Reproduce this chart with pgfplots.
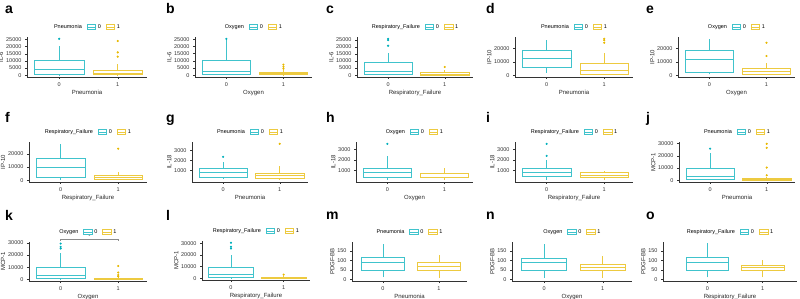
\documentclass[border=0pt]{standalone}
\usepackage{fontspec}
\setmainfont{Liberation Sans}
\usepackage{pgfplots}
\pgfplotsset{compat=1.18}
\usepgfplotslibrary{statistics}
\definecolor{cA}{HTML}{00AFBB}
\definecolor{cB}{HTML}{E7B800}
\definecolor{axgray}{HTML}{333333}
\pgfplotsset{
  panel/.style={
    scale only axis, anchor=south west,
    axis x line=bottom, axis y line=left,
    axis line style={-, axgray, line width=0.5pt},
    xmin=-0.55, xmax=1.5, xtick={0,1}, xticklabels={0,1},
    tick align=outside, major tick length=2pt,
    tick style={axgray, line width=0.4pt},
    ticklabel style={font=\fontsize{5.5}{6}\selectfont, text=black!80},
    label style={font=\fontsize{6}{7}\selectfont, text=black!85},
    xlabel style={yshift=3pt},
    ylabel shift=-4pt,
    /pgf/number format/assume math mode=true,
    /pgf/number format/1000 sep={},
    scaled y ticks=false,
    legend columns=-1,
    legend style={at={(0.5,1)}, anchor=south, yshift=5pt, draw=none, fill=none,
      font=\fontsize{5.5}{6}\selectfont, inner sep=0pt,
      /tikz/every even column/.append style={column sep=3pt}},
    boxplot/draw direction=y,
    boxplot/box extend=0.85,
    boxplot/every median/.style={line width=1pt},
    boxplot/draw/lower whisker/.code={\draw (boxplot box cs:\pgfplotsboxplotvalue{lower whisker},0.5) -- (boxplot box cs:\pgfplotsboxplotvalue{lower quartile},0.5);},
    boxplot/draw/upper whisker/.code={\draw (boxplot box cs:\pgfplotsboxplotvalue{upper quartile},0.5) -- (boxplot box cs:\pgfplotsboxplotvalue{upper whisker},0.5);},
    clip=false,
  },
  k25/.style={ytick={0,5,10,15,20,25}, yticklabels={0,5000,10000,15000,20000,25000}},
  k20/.style={ytick={0,10,20}, yticklabels={0,10000,20000}},
  k30/.style={ytick={0,10,20,30}, yticklabels={0,10000,20000,30000}},
  k3/.style={ytick={1,2,3}, yticklabels={1000,2000,3000}},
  g0/.style={cA!75, solid, line width=0.5pt, fill=white, mark=*, mark size=0.8pt, mark options={fill=cA, draw=cA}},
  g1/.style={cB!75, solid, line width=0.5pt, fill=white, mark=*, mark size=0.8pt, mark options={fill=cB, draw=cB}},
  legbox/.style={legend image code/.code={\draw[##1, fill=white, line width=0.5pt] (0pt,-2.6pt) rectangle (8.5pt,2.6pt); \draw[##1, line width=0.5pt] (0pt,0pt) -- (8.5pt,0pt);}},
  row1/.style={height=40pt},
  row2/.style={height=40pt},
  row3/.style={height=39pt},
}
\newcommand{\leg}[1]{%
  \addlegendimage{empty legend}\addlegendentry{#1}
  \addlegendimage{cA!75, legbox}\addlegendentry{0}
  \addlegendimage{cB!75, legbox}\addlegendentry{1}}
\tikzset{letter/.style={anchor=base west, font=\fontsize{14}{14}\selectfont\bfseries, inner sep=0pt}}
\begin{document}
\begin{tikzpicture}
\useasboundingbox (0,0) rectangle (800pt,-299pt);
% values of IL-6, IP-10, MCP-1 and IL-18 in thousands
% ---------- row 1 ----------
\node[letter] at (5pt,-14pt) {a};
\begin{axis}[panel, row1, k25, at={(27pt,-77pt)}, width=120pt, ylabel={IL-6}, xlabel={Pneumonia},
  ymin=-1.3, ymax=26.8]
\leg{Pneumonia}
\addplot[g0, forget plot, boxplot prepared={draw position=0, lower whisker=0, lower quartile=0.3, median=3.95, upper quartile=10.4, upper whisker=20.3}] coordinates {(0,25.5)};
\addplot[g1, forget plot, boxplot prepared={draw position=1, lower whisker=0, lower quartile=0.3, median=1.2, upper quartile=3.5, upper whisker=7.5}] coordinates {(1,13) (1,16) (1,24)};
\end{axis}
\node[letter] at (166pt,-14pt) {b};
\begin{axis}[panel, row1, k25, at={(195pt,-77pt)}, width=117pt, ylabel={IL-6}, xlabel={Oxygen},
  ymin=-1.3, ymax=26.5]
\leg{Oxygen}
\addplot[g0, forget plot, boxplot prepared={draw position=0, lower whisker=0, lower quartile=0.7, median=2.5, upper quartile=10, upper whisker=24.8}] coordinates {(0,25.2)};
\addplot[g1, forget plot, boxplot prepared={draw position=1, lower whisker=0, lower quartile=0.4, median=1.0, upper quartile=2.2, upper whisker=3.5}] coordinates {(1,4.5) (1,5.8) (1,7.3)};
\end{axis}
\node[letter] at (326pt,-14pt) {c};
\begin{axis}[panel, row1, k25, at={(357pt,-77pt)}, width=116pt, ylabel={IL-6}, xlabel={Respiratory\_Failure},
  ymin=-1.3, ymax=27]
\leg{Respiratory\_Failure}
\addplot[g0, forget plot, boxplot prepared={draw position=0, lower whisker=0, lower quartile=0.5, median=2.3, upper quartile=8.8, upper whisker=15.7}] coordinates {(0,20.8) (0,24.8) (0,25.7)};
\addplot[g1, forget plot, boxplot prepared={draw position=1, lower whisker=0, lower quartile=0.2, median=0.8, upper quartile=1.8, upper whisker=4.0}] coordinates {(1,5.8)};
\end{axis}
\node[letter] at (486pt,-14pt) {d};
\begin{axis}[panel, row1, k20, at={(515pt,-77pt)}, width=118pt, ylabel={IP-10}, xlabel={Pneumonia},
  ymin=-1.4, ymax=28.6]
\leg{Pneumonia}
\addplot[g0, forget plot, boxplot prepared={draw position=0, lower whisker=1.9, lower quartile=5.6, median=12.3, upper quartile=18.3, upper whisker=26.3}] coordinates {};
\addplot[g1, forget plot, boxplot prepared={draw position=1, lower whisker=0, lower quartile=1.0, median=3.4, upper quartile=8.7, upper whisker=16.4}] coordinates {(1,24.3) (1,26.2) (1,27.2)};
\end{axis}
\node[letter] at (646pt,-14pt) {e};
\begin{axis}[panel, row1, k20, at={(678pt,-77pt)}, width=117pt, ylabel={IP-10}, xlabel={Oxygen},
  ymin=-1.4, ymax=28.6]
\leg{Oxygen}
\addplot[g0, forget plot, boxplot prepared={draw position=0, lower whisker=0.5, lower quartile=2.5, median=11.8, upper quartile=18.3, upper whisker=27.0}] coordinates {};
\addplot[g1, forget plot, boxplot prepared={draw position=1, lower whisker=0.2, lower quartile=1.0, median=3.0, upper quartile=5.5, upper whisker=9.3}] coordinates {(1,14.3) (1,24.3)};
\end{axis}
% ---------- row 2 ----------
\node[letter] at (5pt,-123pt) {f};
\begin{axis}[panel, row2, k20, at={(29pt,-182pt)}, width=118pt, ylabel={IP-10}, xlabel={Respiratory\_Failure},
  ymin=-1.4, ymax=29.2]
\leg{Respiratory\_Failure}
\addplot[g0, forget plot, boxplot prepared={draw position=0, lower whisker=0.5, lower quartile=2.0, median=9.6, upper quartile=16.7, upper whisker=27.8}] coordinates {};
\addplot[g1, forget plot, boxplot prepared={draw position=1, lower whisker=0.2, lower quartile=1.0, median=1.9, upper quartile=3.9, upper whisker=6.1}] coordinates {(1,24.1)};
\end{axis}
\node[letter] at (166pt,-123pt) {g};
\begin{axis}[panel, row2, k3, at={(192pt,-182pt)}, width=116pt, ylabel={IL-18}, xlabel={Pneumonia},
  ymin=-0.13, ymax=3.84]
\leg{Pneumonia}
\addplot[g0, forget plot, boxplot prepared={draw position=0, lower whisker=0.15, lower quartile=0.37, median=0.78, upper quartile=1.19, upper whisker=1.9}] coordinates {(0,2.37)};
\addplot[g1, forget plot, boxplot prepared={draw position=1, lower whisker=0.05, lower quartile=0.28, median=0.56, upper quartile=0.75, upper whisker=1.42}] coordinates {(1,3.66)};
\end{axis}
\node[letter] at (326pt,-123pt) {h};
\begin{axis}[panel, row2, k3, at={(356pt,-182pt)}, width=117pt, ylabel={IL-18}, xlabel={Oxygen},
  ymin=-0.1, ymax=3.73]
\leg{Oxygen}
\addplot[g0, forget plot, boxplot prepared={draw position=0, lower whisker=0.1, lower quartile=0.38, median=0.8, upper quartile=1.25, upper whisker=2.35}] coordinates {(0,3.55)};
\addplot[g1, forget plot, boxplot prepared={draw position=1, lower whisker=0.1, lower quartile=0.33, median=0.7, upper quartile=0.78, upper whisker=1.2}] coordinates {};
\end{axis}
\node[letter] at (486pt,-123pt) {i};
\begin{axis}[panel, row2, k3, at={(515pt,-182pt)}, width=118pt, ylabel={IL-18}, xlabel={Respiratory\_Failure},
  ymin=-0.1, ymax=3.73]
\leg{Respiratory\_Failure}
\addplot[g0, forget plot, boxplot prepared={draw position=0, lower whisker=0.1, lower quartile=0.45, median=0.85, upper quartile=1.2, upper whisker=2.0}] coordinates {(0,2.4) (0,3.55)};
\addplot[g1, forget plot, boxplot prepared={draw position=1, lower whisker=0.1, lower quartile=0.33, median=0.5, upper quartile=0.82, upper whisker=1.0}] coordinates {};
\end{axis}
\node[letter] at (646pt,-123pt) {j};
\begin{axis}[panel, row2, k30, at={(679pt,-182pt)}, width=116pt, ylabel={MCP-1}, xlabel={Pneumonia},
  ymin=-1.5, ymax=31.3]
\leg{Pneumonia}
\addplot[g0, forget plot, boxplot prepared={draw position=0, lower whisker=0, lower quartile=0.8, median=2.7, upper quartile=9.4, upper whisker=22}] coordinates {(0,25.8)};
\addplot[g1, forget plot, boxplot prepared={draw position=1, lower whisker=0, lower quartile=0.3, median=0.8, upper quartile=1.5, upper whisker=2.8}] coordinates {(1,4.0) (1,10.3) (1,26.5) (1,29.8)};
\end{axis}
% ---------- row 3 ----------
\node[letter] at (5pt,-220pt) {k};
\begin{axis}[panel, row3, k30, at={(29pt,-281pt)}, width=118pt, ylabel={MCP-1}, xlabel={Oxygen},
  ymin=-1.5, ymax=30.8]
\leg{Oxygen}
\addplot[g0, forget plot, boxplot prepared={draw position=0, lower whisker=0, lower quartile=0.5, median=3.0, upper quartile=10, upper whisker=22}] coordinates {(0,25.4) (0,26.8) (0,29.5)};
\addplot[g1, forget plot, boxplot prepared={draw position=1, lower whisker=0, lower quartile=0.2, median=0.5, upper quartile=1.0, upper whisker=2.0}] coordinates {(1,2.3) (1,3.5) (1,5.5) (1,10.9)};
\addplot[black!45, line width=0.4pt, forget plot] coordinates {(0,31.7) (0,33.3) (1,33.3) (1,31.7)};
\node[font=\fontsize{6}{6}\selectfont, text=black!70, inner sep=0pt, anchor=south] at (axis cs:0.5,33.6) {*};
\end{axis}
\node[letter] at (166pt,-220pt) {l};
\begin{axis}[panel, row3, k30, at={(202pt,-280pt)}, width=108pt, ylabel={MCP-1}, xlabel={Respiratory\_Failure},
  ymin=-1.5, ymax=32]
\leg{Respiratory\_Failure}
\addplot[g0, forget plot, boxplot prepared={draw position=0, lower whisker=0, lower quartile=0.5, median=2.8, upper quartile=9.7, upper whisker=20}] coordinates {(0,25.5) (0,27.0) (0,30.5)};
\addplot[g1, forget plot, boxplot prepared={draw position=1, lower whisker=0, lower quartile=0.2, median=0.4, upper quartile=0.8, upper whisker=1.8}] coordinates {(1,3.1)};
\end{axis}
\node[letter] at (326pt,-219pt) {m};
\begin{axis}[panel, row3, at={(352pt,-281pt)}, width=115pt, ylabel={PDGF-BB}, xlabel={Pneumonia},
  ymin=-9, ymax=198, ytick={0,50,100,150}, boxplot/box extend=0.77]
\leg{Pneumonia}
\addplot[g0, forget plot, boxplot prepared={draw position=0, lower whisker=12, lower quartile=48, median=87, upper quartile=117, upper whisker=190}] coordinates {};
\addplot[g1, forget plot, boxplot prepared={draw position=1, lower whisker=7, lower quartile=48, median=70, upper quartile=90, upper whisker=128}] coordinates {};
\end{axis}
\node[letter] at (486pt,-219pt) {n};
\begin{axis}[panel, row3, at={(512pt,-281pt)}, width=120pt, ylabel={PDGF-BB}, xlabel={Oxygen},
  ymin=-9, ymax=198, ytick={0,50,100,150}, boxplot/box extend=0.77]
\leg{Oxygen}
\addplot[g0, forget plot, boxplot prepared={draw position=0, lower whisker=8, lower quartile=50, median=87, upper quartile=112, upper whisker=187}] coordinates {};
\addplot[g1, forget plot, boxplot prepared={draw position=1, lower whisker=8, lower quartile=50, median=65, upper quartile=82, upper whisker=125}] coordinates {};
\end{axis}
\node[letter] at (646pt,-219pt) {o};
\begin{axis}[panel, row3, at={(663pt,-281pt)}, width=134pt, ylabel={PDGF-BB}, xlabel={Respiratory\_Failure},
  xmin=-0.8, xmax=1.62, ymin=-9, ymax=198, ytick={0,50,100,150}, boxplot/box extend=0.77]
\leg{Respiratory\_Failure}
\addplot[g0, forget plot, boxplot prepared={draw position=0, lower whisker=10, lower quartile=47, median=87, upper quartile=117, upper whisker=193}] coordinates {};
\addplot[g1, forget plot, boxplot prepared={draw position=1, lower whisker=10, lower quartile=47, median=63, upper quartile=72, upper whisker=102}] coordinates {};
\end{axis}
\end{tikzpicture}
\end{document}
